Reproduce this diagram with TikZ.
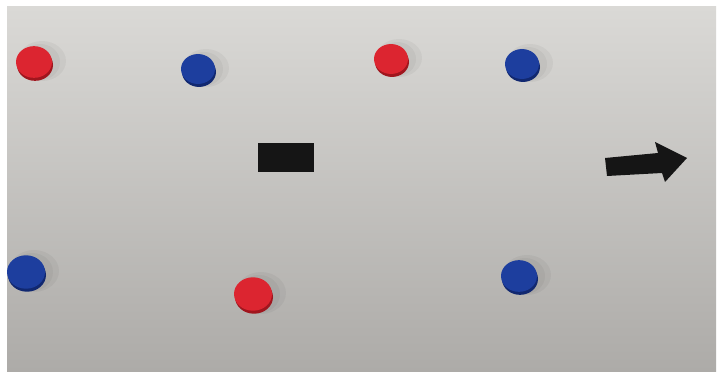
\documentclass[tikz,border=0pt]{standalone}
\usepackage{tikz}
\definecolor{Board}{HTML}{DAD9D6}
\definecolor{BoardLow}{HTML}{ADABA8}
\definecolor{Red}{HTML}{DC2530}
\definecolor{RedDark}{HTML}{A0161E}
\definecolor{Blue}{HTML}{1D3E9E}
\definecolor{BlueDark}{HTML}{112870}
\definecolor{Ink}{HTML}{151515}
% #1 x, #2 y, #3 radius, #4 colour
\newcommand{\magnet}[4]{%
  \fill[black,opacity=0.04] (#1+8,#2-1) ellipse ({#3pt+6pt} and {#3pt+2pt});
  \fill[black,opacity=0.04] (#1+6,#2) ellipse ({#3pt+2pt} and {#3pt});
  \fill[#4Dark] (#1+1,#2+3) ellipse ({#3pt} and {0.88*#3pt});
  \fill[#4] (#1,#2) ellipse ({#3pt} and {0.88*#3pt});
}

\begin{document}
\begin{tikzpicture}[x=1pt,y=-1pt]
\useasboundingbox (0,0) rectangle (718,374);
\fill[white] (0,0) rectangle (718,374);
\shade[top color=Board,bottom color=BoardLow] (7,7) rectangle (716,371);
\begin{scope}
\clip (7,7) rectangle (716,371);
% top row
\magnet{34}{62}{18}{Red}
\magnet{198}{69}{17}{Blue}
\magnet{391}{59}{17}{Red}
\magnet{522}{64}{17}{Blue}
% bottom row
\magnet{26}{272}{19}{Blue}
\magnet{253}{294}{19}{Red}
\magnet{519}{276}{18}{Blue}
\end{scope}
% puck and arrow
\fill[Ink] (258,143) rectangle (314,172);
\fill[Ink] (605,158) -- (658,153) -- (655,142) -- (687,158) -- (665,182)
  -- (662,173) -- (607,176) -- cycle;
\end{tikzpicture}
\end{document}
